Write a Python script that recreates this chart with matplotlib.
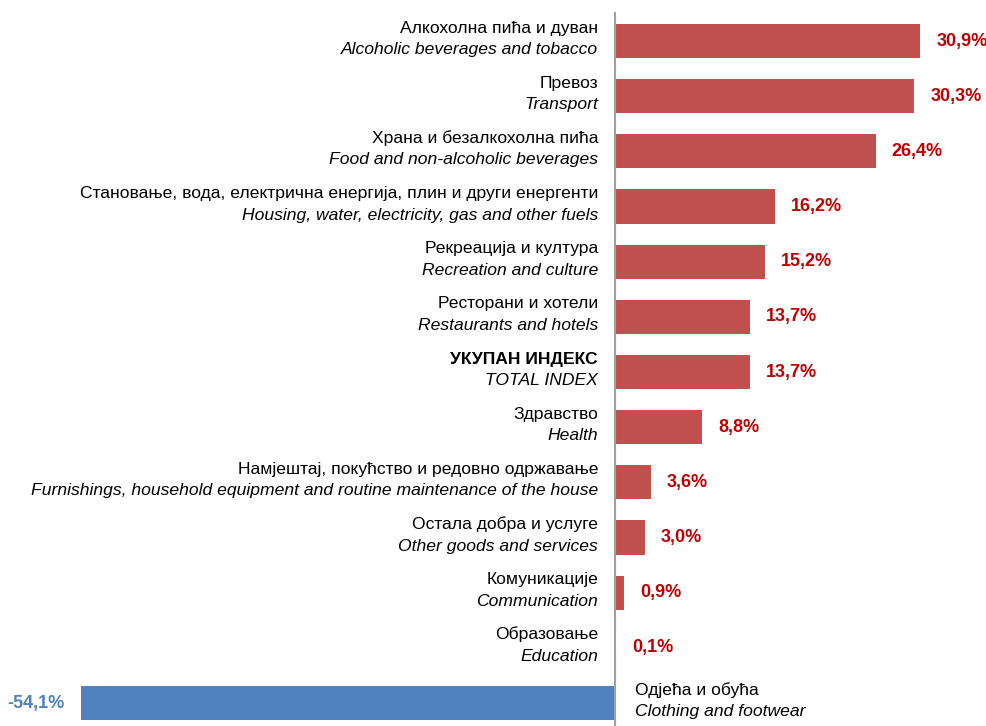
import numpy as np
import matplotlib.pyplot as plt

# categories (Serbian Cyrillic / English) and annual change, %
labels_sr = ['Алкохолна пића и дуван', 'Превоз', 'Храна и безалкохолна пића',
             'Становање, вода, електрична енергија, плин и други енергенти',
             'Рекреација и култура', 'Ресторани и хотели', 'УКУПАН ИНДЕКС',
             'Здравство', 'Намјештај, покућство и редовно одржавање',
             'Остала добра и услуге', 'Комуникације', 'Образовање',
             'Одјећа и обућа']
labels_en = ['Alcoholic beverages and tobacco', 'Transport',
             'Food and non-alcoholic beverages',
             'Housing, water, electricity, gas and other fuels',
             'Recreation and culture', 'Restaurants and hotels', 'TOTAL INDEX',
             'Health',
             'Furnishings, household equipment and routine maintenance of the house',
             'Other goods and services', 'Communication', 'Education',
             'Clothing and footwear']
values = [30.9, 30.3, 26.4, 16.2, 15.2, 13.7, 13.7, 8.8, 3.6, 3.0, 0.9, 0.1, -54.1]

FONT = ['Liberation Sans Narrow', 'Liberation Sans', 'DejaVu Sans']
RED = '#C0504D'
BLUE = '#4F81BD'
FS = 12.6

fig = plt.figure(figsize=(9.86, 7.26), dpi=100)
ax = fig.add_axes([0, 0, 1, 714 / 726])

y = np.arange(len(values))
colors = [RED if v >= 0 else BLUE for v in values]
ax.barh(y, values, height=0.62, color=colors, zorder=2)

ax.set_xlim(-62.25, 37.55)
ax.set_ylim(12.416, -0.526)
ax.axvline(0, color='#A0A0A0', lw=1.5, zorder=3)
for s in ax.spines.values():
    s.set_visible(False)
ax.set_xticks([])
ax.set_yticks([])

for i, v in enumerate(values):
    txt = f'{v:.1f}%'.replace('.', ',')
    bold = 'bold' if i == 6 else 'normal'
    if v >= 0:
        ax.annotate(labels_sr[i], xy=(0, i), xytext=(-17, 8.5), textcoords='offset pixels',
                    ha='right', va='baseline', fontsize=FS, family=FONT, fontweight=bold)
        ax.annotate(labels_en[i], xy=(0, i), xytext=(-17, -13), textcoords='offset pixels',
                    ha='right', va='baseline', fontsize=FS, family=FONT, style='italic')
        ax.annotate(txt, xy=(v, i), xytext=(16, 0), textcoords='offset pixels',
                    ha='left', va='center', fontsize=13, family=FONT,
                    fontweight='bold', color='#C00000')
    else:
        ax.annotate(labels_sr[i], xy=(0, i), xytext=(20, 8.5), textcoords='offset pixels',
                    ha='left', va='baseline', fontsize=FS, family=FONT)
        ax.annotate(labels_en[i], xy=(0, i), xytext=(20, -13), textcoords='offset pixels',
                    ha='left', va='baseline', fontsize=FS, family=FONT, style='italic')
        ax.annotate(txt, xy=(v, i), xytext=(-16, 0), textcoords='offset pixels',
                    ha='right', va='center', fontsize=13, family=FONT,
                    fontweight='bold', color=BLUE)

fig.savefig('out.png', dpi=100)
